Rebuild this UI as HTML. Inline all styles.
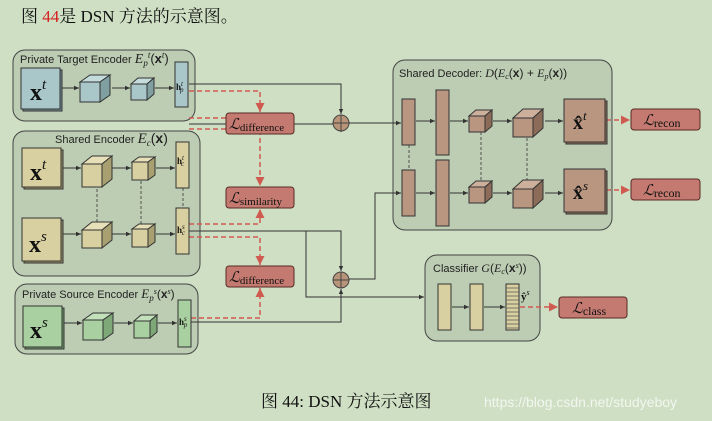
<!DOCTYPE html>
<html><head><meta charset="utf-8"><style>
html,body{margin:0;padding:0;background:#cedfc4;width:712px;height:421px;overflow:hidden}
svg{display:block}
text{font-family:"Liberation Serif","Noto Serif CJK SC",serif}
.s{font-family:"Liberation Sans",sans-serif;font-size:11px;fill:#222}
.m{font-family:"Liberation Serif",serif;font-style:italic}
</style></head><body>
<svg width="712" height="421" viewBox="0 0 712 421" xmlns="http://www.w3.org/2000/svg">
<defs>
<marker id="a" markerWidth="6" markerHeight="6" refX="5" refY="3" orient="auto"><path d="M0,0.8 L5,3 L0,5.2z" fill="#333"/></marker>
<marker id="r" markerWidth="10" markerHeight="10" refX="9" refY="5" orient="auto" markerUnits="userSpaceOnUse"><path d="M0,0.5 L9,5 L0,9.5z" fill="#d05a50"/></marker>
</defs>
<text x="21" y="22" font-size="17" fill="#111">图 <tspan fill="#d42020">44</tspan>是 DSN 方法的示意图。</text>

<g fill="#bdcdb3" stroke="#444" stroke-width="1">
<rect x="13" y="50" width="182" height="71" rx="12"/>
<rect x="13" y="131" width="187" height="145" rx="12"/>
<rect x="15" y="284" width="183" height="70" rx="12"/>
<rect x="393" y="60" width="219" height="170" rx="12"/>
<rect x="425" y="255" width="115" height="86" rx="12"/>
</g>
<text x="20" y="63" class="s">Private Target Encoder <tspan class="m" font-size="14">E</tspan><tspan class="m" font-size="9" dy="3">p</tspan><tspan class="m" font-size="9" dy="-8">t</tspan><tspan font-size="13" dy="5">(<tspan font-weight="bold">x</tspan></tspan><tspan class="m" font-size="9" dy="-5">t</tspan><tspan font-size="13" dy="5">)</tspan></text>
<text x="55" y="143" class="s">Shared Encoder <tspan class="m" font-size="15">E</tspan><tspan class="m" font-size="9" dy="3">c</tspan><tspan font-size="14" dy="-3">(<tspan font-weight="bold">x</tspan>)</tspan></text>
<text x="22" y="298" class="s">Private Source Encoder <tspan class="m" font-size="13">E</tspan><tspan class="m" font-size="9" dy="3">p</tspan><tspan class="m" font-size="8" dy="-7">s</tspan><tspan font-size="12" dy="4">(<tspan font-weight="bold">x</tspan></tspan><tspan class="m" font-size="8" dy="-4">s</tspan><tspan font-size="12" dy="4">)</tspan></text>
<text x="399" y="77" class="s" font-size="12">Shared Decoder: <tspan class="m" font-size="12">D</tspan><tspan font-size="12">(<tspan class="m">E</tspan></tspan><tspan class="m" font-size="8" dy="2">c</tspan><tspan font-size="12" dy="-2">(<tspan font-weight="bold">x</tspan>) + <tspan class="m">E</tspan></tspan><tspan class="m" font-size="8" dy="2">p</tspan><tspan font-size="12" dy="-2">(<tspan font-weight="bold">x</tspan>))</tspan></text>
<text x="433" y="272" class="s" font-size="10">Classifier <tspan class="m" font-size="12">G</tspan><tspan font-size="12">(<tspan class="m">E</tspan></tspan><tspan class="m" font-size="8" dy="2">c</tspan><tspan font-size="12" dy="-2">(<tspan font-weight="bold">x</tspan></tspan><tspan class="m" font-size="8" dy="-4">s</tspan><tspan font-size="12" dy="4">))</tspan></text>

<g stroke="#333" stroke-width="1" fill="none">
<path d="M189,84 H341 V114" marker-end="url(#a)"/>
<path d="M189,124 H341 V132" marker-end="url(#a)"/>
<path d="M349,123 H401" marker-end="url(#a)"/>
<path d="M189,231 H341 V271" marker-end="url(#a)"/>
<path d="M306,231 V297 H424" marker-end="url(#a)"/>
<path d="M191,322 H341 V289" marker-end="url(#a)"/>
<path d="M349,279 H375 V193 H401" marker-end="url(#a)"/>
<path d="M61,88 H79" marker-end="url(#a)"/><path d="M112,88 H130" marker-end="url(#a)"/><path d="M155,88 H174" marker-end="url(#a)"/>
<path d="M62,168 H81" marker-end="url(#a)"/><path d="M112,168 H131" marker-end="url(#a)"/><path d="M156,168 H175" marker-end="url(#a)"/>
<path d="M62,234 H81" marker-end="url(#a)"/><path d="M112,234 H131" marker-end="url(#a)"/><path d="M156,234 H175" marker-end="url(#a)"/>
<path d="M64,323 H82" marker-end="url(#a)"/><path d="M114,323 H133" marker-end="url(#a)"/><path d="M158,323 H177" marker-end="url(#a)"/>
<path d="M416,121 H435" marker-end="url(#a)"/><path d="M450,121 H468" marker-end="url(#a)"/><path d="M493,121 H512" marker-end="url(#a)"/><path d="M545,121 H563" marker-end="url(#a)"/>
<path d="M416,193 H435" marker-end="url(#a)"/><path d="M450,193 H468" marker-end="url(#a)"/><path d="M493,193 H512" marker-end="url(#a)"/><path d="M545,193 H563" marker-end="url(#a)"/>
<path d="M452,307 H469" marker-end="url(#a)"/><path d="M484,307 H505" marker-end="url(#a)"/>
</g>
<g stroke="#333" stroke-width="0.8" stroke-dasharray="3,2">
<path d="M97,189 V222"/><path d="M141,181 V224"/><path d="M183,188 V208"/>
<path d="M409,145 V170"/><path d="M481,132 V182"/><path d="M527,138 V181"/>
</g>
<g stroke="#d05a50" stroke-width="1.5" stroke-dasharray="5,3" fill="none">
<path d="M189,91 H260 V112" marker-end="url(#r)"/>
<path d="M189,118 H260 V135" marker-end="url(#r)"/>
<path d="M189,129 H260 V186" marker-end="url(#r)"/>
<path d="M189,224 H260 V209" marker-end="url(#r)"/>
<path d="M189,237 H260 V265" marker-end="url(#r)"/>
<path d="M191,318 H260 V288" marker-end="url(#r)"/>
<path d="M606,120 H630" marker-end="url(#r)"/>
<path d="M606,190 H630" marker-end="url(#r)"/>
<path d="M520,307 H558" marker-end="url(#r)"/>
</g>
<g fill="#b89478" stroke="#444"><circle cx="341" cy="123" r="8"/><circle cx="341" cy="280" r="8"/></g>
<path d="M333,123 H349 M341,115 V131 M333,280 H349 M341,272 V288" stroke="#444"/>

<g stroke="#333" stroke-width="1">
<rect x="23" y="70" width="39" height="41" fill="#6f8e90"/><rect x="21" y="68" width="39" height="41" fill="#a9c6c8"/>
<rect x="24" y="150" width="39" height="39" fill="#9a9266"/><rect x="22" y="148" width="39" height="39" fill="#d8d0a0"/>
<rect x="24" y="220" width="39" height="43" fill="#9a9266"/><rect x="22" y="218" width="39" height="43" fill="#d8d0a0"/>
<rect x="25" y="308" width="39" height="41" fill="#6f9a68"/><rect x="23" y="306" width="39" height="41" fill="#a9d0a0"/>
<rect x="566" y="101" width="41" height="43" fill="#8c6c58"/><rect x="564" y="99" width="41" height="43" fill="#b89680"/>
<rect x="566" y="171" width="41" height="43" fill="#8c6c58"/><rect x="564" y="169" width="41" height="43" fill="#b89680"/>
</g>
<g font-weight="bold" fill="#111">
<text x="30" y="100" font-size="24">x<tspan font-weight="normal" font-style="italic" font-size="15" dy="-11">t</tspan></text>
<text x="30" y="180" font-size="24">x<tspan font-weight="normal" font-style="italic" font-size="15" dy="-11">t</tspan></text>
<text x="29" y="252" font-size="24">x<tspan font-weight="normal" font-style="italic" font-size="15" dy="-11">s</tspan></text>
<text x="30" y="338" font-size="24">x<tspan font-weight="normal" font-style="italic" font-size="15" dy="-11">s</tspan></text>
<text x="573" y="129" font-size="20">x̂<tspan font-weight="normal" font-style="italic" font-size="13" dy="-9">t</tspan></text>
<text x="573" y="199" font-size="20">x̂<tspan font-weight="normal" font-style="italic" font-size="13" dy="-9">s</tspan></text>
</g>

<g stroke="#333" stroke-width="1">
<rect x="80" y="82" width="20" height="20" fill="#a9c6c8"/><polygon points="80,82 90,75 110,75 100,82" fill="#c4dcdc"/><polygon points="100,82 110,75 110,95 100,102" fill="#7f9fa0"/>
<rect x="131" y="84" width="16" height="16" fill="#a9c6c8"/><polygon points="131,84 138,78 154,78 147,84" fill="#c4dcdc"/><polygon points="147,84 154,78 154,94 147,100" fill="#7f9fa0"/>
<rect x="82" y="164" width="20" height="23" fill="#d8d0a0"/><polygon points="82,164 92,156 112,156 102,164" fill="#e6dfb8"/><polygon points="102,164 112,156 112,179 102,187" fill="#a8a070"/>
<rect x="132" y="162" width="16" height="18" fill="#d8d0a0"/><polygon points="132,162 139,157 155,157 148,162" fill="#e6dfb8"/><polygon points="148,162 155,157 155,175 148,180" fill="#a8a070"/>
<rect x="82" y="230" width="20" height="18" fill="#d8d0a0"/><polygon points="82,230 92,222 112,222 102,230" fill="#e6dfb8"/><polygon points="102,230 112,222 112,240 102,248" fill="#a8a070"/>
<rect x="132" y="229" width="16" height="18" fill="#d8d0a0"/><polygon points="132,229 139,224 155,224 148,229" fill="#e6dfb8"/><polygon points="148,229 155,224 155,242 148,247" fill="#a8a070"/>
<rect x="83" y="320" width="20" height="20" fill="#a9d0a0"/><polygon points="83,320 93,313 113,313 103,320" fill="#c2e0ba"/><polygon points="103,320 113,313 113,333 103,340" fill="#7fa878"/>
<rect x="134" y="321" width="16" height="17" fill="#a9d0a0"/><polygon points="134,321 141,315 157,315 150,321" fill="#c2e0ba"/><polygon points="150,321 157,315 157,332 150,338" fill="#7fa878"/>
<rect x="469" y="116" width="16" height="16" fill="#b89680"/><polygon points="469,116 476,110 492,110 485,116" fill="#cdb09c"/><polygon points="485,116 492,110 492,126 485,132" fill="#8c6c58"/>
<rect x="513" y="118" width="20" height="19" fill="#b89680"/><polygon points="513,118 523,109 543,109 533,118" fill="#cdb09c"/><polygon points="533,118 543,109 543,128 533,137" fill="#8c6c58"/>
<rect x="469" y="187" width="16" height="16" fill="#b89680"/><polygon points="469,187 476,181 492,181 485,187" fill="#cdb09c"/><polygon points="485,187 492,181 492,197 485,203" fill="#8c6c58"/>
<rect x="513" y="189" width="20" height="19" fill="#b89680"/><polygon points="513,189 523,180 543,180 533,189" fill="#cdb09c"/><polygon points="533,189 543,180 543,199 533,208" fill="#8c6c58"/>
<rect x="175" y="62" width="13" height="45" fill="#a9c6c8"/>
<rect x="176" y="142" width="13" height="46" fill="#d8d0a0"/>
<rect x="176" y="208" width="13" height="46" fill="#d8d0a0"/>
<rect x="178" y="300" width="13" height="47" fill="#a9d0a0"/>
<rect x="402" y="99" width="13" height="46" fill="#b89680"/>
<rect x="436" y="90" width="13" height="65" fill="#b89680"/>
<rect x="402" y="170" width="13" height="46" fill="#b89680"/>
<rect x="436" y="160" width="13" height="66" fill="#b89680"/>
<rect x="438" y="284" width="13" height="46" fill="#d8d0a0"/>
<rect x="470" y="284" width="13" height="46" fill="#d8d0a0"/>
<rect x="506" y="284" width="13" height="46" fill="#d8d0a0"/>
</g>
<path d="M506,288H519M506,292H519M506,296H519M506,300H519M506,304H519M506,308H519M506,312H519M506,316H519M506,320H519M506,324H519M506,328H519" stroke="#555" stroke-width="0.8"/>
<g font-size="9" font-weight="bold" fill="#111">
<text x="176" y="90">h<tspan font-weight="normal" font-style="italic" font-size="7" dy="-4">t</tspan><tspan font-weight="normal" font-style="italic" font-size="7" dy="6" dx="-3">p</tspan></text>
<text x="177" y="164">h<tspan font-weight="normal" font-style="italic" font-size="7" dy="-4">t</tspan><tspan font-weight="normal" font-style="italic" font-size="7" dy="6" dx="-3">c</tspan></text>
<text x="177" y="233">h<tspan font-weight="normal" font-style="italic" font-size="7" dy="-4">s</tspan><tspan font-weight="normal" font-style="italic" font-size="7" dy="6" dx="-3">c</tspan></text>
<text x="179" y="325">h<tspan font-weight="normal" font-style="italic" font-size="7" dy="-4">s</tspan><tspan font-weight="normal" font-style="italic" font-size="7" dy="6" dx="-3">p</tspan></text>
<text x="521" y="300" font-size="11">ŷ<tspan font-weight="normal" font-style="italic" font-size="8" dy="-5">s</tspan></text>
</g>

<g fill="#c47a70" stroke="#5a2a25" stroke-width="1">
<rect x="226" y="113" width="68" height="21" rx="3"/>
<rect x="226" y="187" width="68" height="21" rx="3"/>
<rect x="226" y="266" width="68" height="21" rx="3"/>
<rect x="631" y="109" width="69" height="21" rx="3"/>
<rect x="631" y="179" width="69" height="21" rx="3"/>
<rect x="559" y="297" width="68" height="21" rx="3"/>
</g>
<g fill="#111">
<text x="229" y="129" font-size="15" font-style="italic">ℒ<tspan font-style="normal" font-size="11" dy="2">difference</tspan></text>
<text x="229" y="203" font-size="15" font-style="italic">ℒ<tspan font-style="normal" font-size="11" dy="2">similarity</tspan></text>
<text x="229" y="282" font-size="15" font-style="italic">ℒ<tspan font-style="normal" font-size="11" dy="2">difference</tspan></text>
<text x="643" y="125" font-size="15" font-style="italic">ℒ<tspan font-style="normal" font-size="12" dy="2">recon</tspan></text>
<text x="643" y="195" font-size="15" font-style="italic">ℒ<tspan font-style="normal" font-size="12" dy="2">recon</tspan></text>
<text x="572" y="313" font-size="15" font-style="italic">ℒ<tspan font-style="normal" font-size="12" dy="2">class</tspan></text>
</g>

<text x="261" y="407" font-size="17" fill="#111">图 44: DSN 方法示意图</text>
<text x="484" y="407" style="font-family:'Liberation Sans',sans-serif;font-size:14px" fill="#f2f6ef">https://blog.csdn.net/studyeboy</text>
</svg>
</body></html>
